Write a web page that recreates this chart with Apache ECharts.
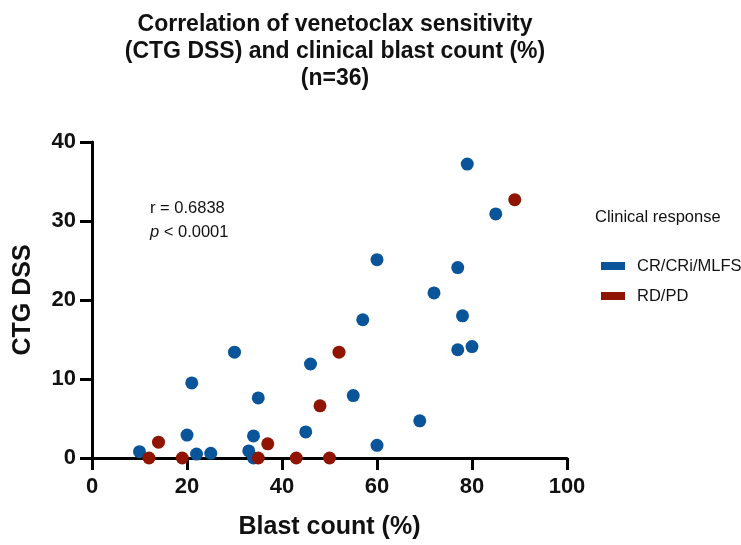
<!DOCTYPE html>
<html>
<head>
<meta charset="utf-8">
<script src="https://cdn.jsdelivr.net/npm/echarts@6/dist/echarts.min.js"></script>
<style>
  html, body { margin: 0; padding: 0; background: #fff; }
  #main { width: 741px; height: 545px; }
</style>
</head>
<body>
<div id="main"></div>
<script>
// blast count (%) and CTG DSS
var crBlast = [10, 20, 21, 22, 25, 30, 33, 34, 34, 35, 45, 46, 55, 57, 60, 60, 69, 72, 77, 77, 78, 79, 80, 85];
var crDss   = [0.8, 2.9, 9.5, 0.5, 0.6, 13.4, 0.9, 2.8, 0, 7.6, 3.3, 11.9, 7.9, 17.5, 25.1, 1.6, 4.7, 20.9, 24.1, 13.7, 18.0, 37.2, 14.1, 30.9];
var rdBlast = [12, 14, 19, 35, 37, 43, 48, 50, 52, 89];
var rdDss   = [0, 2.0, 0, 0, 1.8, 0, 6.6, 0, 13.4, 32.7];

var xTicks = [0, 20, 40, 60, 80, 100];
var yTicks = [0, 10, 20, 30, 40];

function pairs(xs, ys) {
  var out = [];
  for (var i = 0; i < xs.length; i++) out.push([xs[i], ys[i]]);
  return out;
}

var font = '"Liberation Sans", Arial, sans-serif';
var chart = echarts.init(document.getElementById('main'));

var option = {
  animation: false,
  title: {
    text: 'Correlation of venetoclax sensitivity\n(CTG DSS) and clinical blast count (%)\n(n=36)',
    left: 330,
    textAlign: 'center',
    top: 6,
    textStyle: { fontFamily: font, fontWeight: 'bold', fontSize: 23, lineHeight: 27, color: '#111' }
  },
  grid: { left: 92, right: 174, top: 142, bottom: 87 },
  legend: {
    left: 596,
    top: 251,
    orient: 'vertical',
    icon: 'rect',
    itemWidth: 24,
    itemHeight: 8,
    itemGap: 10,
    textStyle: { fontFamily: font, fontSize: 16.5, lineHeight: 20, color: '#111', padding: [0, 0, 0, 7] },
    data: ['CR/CRi/MLFS', 'RD/PD']
  },
  graphic: [
    { type: 'text', left: 595, top: 209, style: { text: 'Clinical response', font: '16.5px ' + font, fill: '#111' } },
    { type: 'text', left: 150, top: 200, style: { text: 'r = 0.6838', font: '16.5px ' + font, fill: '#111' } },
    { type: 'text', left: 150, top: 224, style: {
        text: '{i|p} < 0.0001',
        font: '16.5px ' + font, fill: '#111',
        rich: { i: { fontStyle: 'italic', fontSize: 16.5, fontFamily: font } }
    } }
  ],
  xAxis: {
    type: 'value',
    min: 0, max: 100, interval: 20,
    name: 'Blast count (%)',
    nameLocation: 'middle',
    nameGap: 57,
    nameTextStyle: { fontFamily: font, fontWeight: 'bold', fontSize: 25, color: '#111' },
    axisLine: { show: true, onZero: false, lineStyle: { color: '#000', width: 3 } },
    axisTick: { show: true, length: 12, lineStyle: { color: '#000', width: 3 } },
    axisLabel: { fontFamily: font, fontWeight: 'bold', fontSize: 22, color: '#111', margin: 18,
      formatter: function (v) { return xTicks.indexOf(v) >= 0 ? v : ''; } },
    splitLine: { show: false }
  },
  yAxis: {
    type: 'value',
    min: 0, max: 40, interval: 10,
    name: 'CTG DSS',
    nameLocation: 'middle',
    nameGap: 56,
    nameTextStyle: { fontFamily: font, fontWeight: 'bold', fontSize: 25, color: '#111' },
    axisLine: { show: true, onZero: false, lineStyle: { color: '#000', width: 3 } },
    axisTick: { show: true, length: 12, lineStyle: { color: '#000', width: 3 } },
    axisLabel: { fontFamily: font, fontWeight: 'bold', fontSize: 22, color: '#111', margin: 16,
      formatter: function (v) { return yTicks.indexOf(v) >= 0 ? v : ''; } },
    splitLine: { show: false }
  },
  series: [
    {
      name: 'CR/CRi/MLFS',
      type: 'scatter',
      symbolSize: 13,
      clip: false,
      itemStyle: { color: '#0a559a', opacity: 1 },
      data: pairs(crBlast, crDss),
      z: 3
    },
    {
      name: 'RD/PD',
      type: 'scatter',
      symbolSize: 13,
      clip: false,
      itemStyle: { color: '#8f1502', opacity: 1 },
      data: pairs(rdBlast, rdDss),
      z: 4
    }
  ]
};

chart.setOption(option);
</script>
</body>
</html>
